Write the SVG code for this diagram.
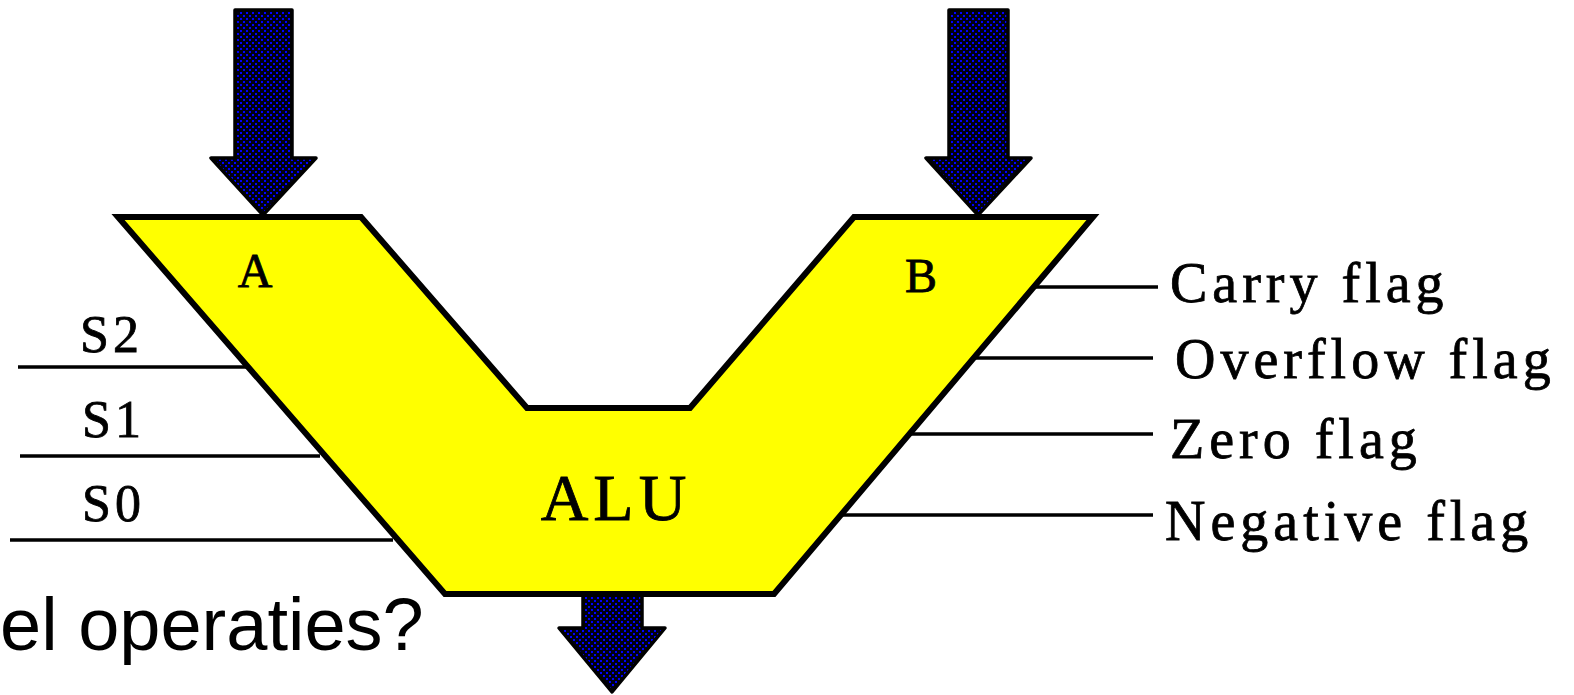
<svg xmlns="http://www.w3.org/2000/svg" width="1574" height="695" viewBox="0 0 1574 695">
<defs>
<pattern id="dots" width="6" height="6" patternUnits="userSpaceOnUse">
<rect width="6" height="6" fill="#000010"/>
<rect x="0" y="0" width="2" height="2" fill="#0000ff"/>
<rect x="3" y="3" width="2" height="2" fill="#0000ff"/>
</pattern>
</defs>
<style>
.arrow{fill:url(#dots);stroke:#000;stroke-width:3.5;stroke-linejoin:round}
.alu{fill:#ffff00;stroke:#000;stroke-width:6;stroke-linejoin:miter}
.sig{stroke:#000;stroke-width:3.5;fill:none}
.lbl{font-family:"Liberation Serif","Times New Roman",serif;fill:#000;stroke:#000;stroke-width:0.8}
.flag{font-size:56px;letter-spacing:5px}
.sel{font-size:52px;letter-spacing:4px}
.sans{font-family:"Liberation Sans",Arial,sans-serif;font-size:74px;fill:#000}
</style>
<rect width="1574" height="695" fill="#fff"/>
<text class="sans" x="0" y="650">el operaties?</text>
<g id="connectors">
<line class="sig" x1="18" y1="367" x2="246" y2="367"/>
<line class="sig" x1="20" y1="456" x2="320" y2="456"/>
<line class="sig" x1="10" y1="540" x2="393" y2="540"/>
<line class="sig" x1="1036" y1="287" x2="1158" y2="287"/>
<line class="sig" x1="975" y1="358" x2="1153" y2="358"/>
<line class="sig" x1="910" y1="434" x2="1153" y2="434"/>
<line class="sig" x1="838" y1="515" x2="1153" y2="515"/>
</g>
<g id="arrow-a">
<polygon class="arrow" points="235,10 292,10 292,158 316,158 263,215 211,158 235,158"/>
</g>
<g id="arrow-b">
<polygon class="arrow" points="949,10 1008,10 1008,158 1031,158 978,215 926,158 949,158"/>
</g>
<g id="arrow-out">
<polygon class="arrow" points="583,590 642,590 642,628 665,628 612,692 559,628 583,628"/>
</g>
<g id="alu">
<polygon class="alu" points="118,217 361,217 527,408 690,408 854,217 1093,217 774,594 445,594"/>
<text class="lbl" x="255" y="287" font-size="48" text-anchor="middle">A</text>
<text class="lbl" x="921" y="292" font-size="48" text-anchor="middle">B</text>
<text class="lbl" x="616" y="520" font-size="66" text-anchor="middle" letter-spacing="5">ALU</text>
</g>
<g id="select-labels">
<text class="lbl sel" x="80" y="352">S2</text>
<text class="lbl sel" x="82" y="437">S1</text>
<text class="lbl sel" x="82" y="521">S0</text>
</g>
<g id="flag-labels">
<text class="lbl flag" x="1170" y="302">Carry flag</text>
<text class="lbl flag" x="1175" y="378">Overflow flag</text>
<text class="lbl flag" x="1170" y="458">Zero flag</text>
<text class="lbl flag" x="1165" y="540">Negative flag</text>
</g>
</svg>
